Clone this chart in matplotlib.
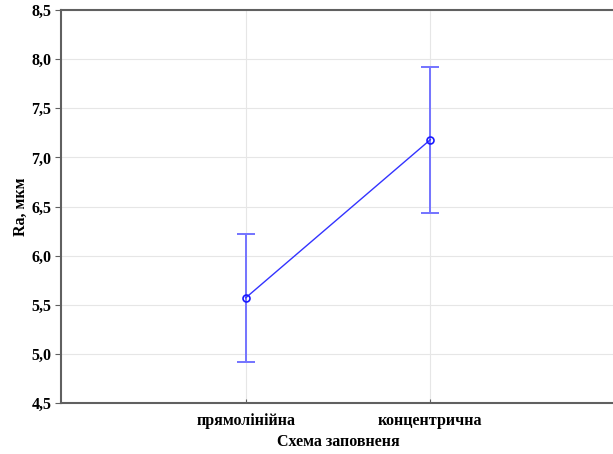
import numpy as np
import matplotlib
matplotlib.use("Agg")
import matplotlib.pyplot as plt

# дані з графіка
categories = ["прямолінійна", "концентрична"]
ra_mean = [5.57, 7.18]
ra_low = [4.92, 6.43]
ra_high = [6.22, 7.92]

plt.rcParams['font.family'] = ['Liberation Serif', 'DejaVu Serif']
plt.rcParams['font.weight'] = 'bold'

fig = plt.figure(figsize=(6.13, 4.54), dpi=100)
ax = fig.add_axes([61 / 613, 1 - 403 / 454, (615 - 61) / 613, 393 / 454])

x = np.arange(1, len(categories) + 1)
mean = np.array(ra_mean)
yerr = [mean - np.array(ra_low), np.array(ra_high) - mean]

ax.errorbar(x, mean, yerr=yerr, fmt='none', ecolor=(0.45, 0.45, 1.0),
            elinewidth=1.4, capsize=6.5, capthick=1.4, zorder=3)
ax.plot(x, mean, color='#3333ff', linewidth=1.0, marker='o', markersize=5,
        markerfacecolor='none', markeredgecolor='#1a1aff', markeredgewidth=1.2, zorder=4)

ax.set_xlim(0, 3)
ax.set_ylim(4.5, 8.5)
yt = np.arange(4.5, 8.51, 0.5)
ax.set_yticks(yt)
ax.set_yticklabels([f"{v:.1f}".replace('.', ',') for v in yt], fontsize=11.5, fontweight='bold')
ax.set_xticks(x)
ax.set_xticklabels(categories, fontsize=11.5, fontweight='bold')

ax.grid(True, color='#e6e6e6', linewidth=0.8)
ax.set_axisbelow(True)
for s in ['left', 'bottom', 'top']:
    ax.spines[s].set_color('#606060')
    ax.spines[s].set_linewidth(1.5)
ax.spines['right'].set_visible(False)
ax.tick_params(axis='y', direction='out', length=4, color='#606060', right=True, pad=3)
ax.tick_params(axis='x', direction='in', length=3, color='#606060', pad=7)

ax.set_xlabel("Схема заповненя", fontsize=11.5, fontweight='bold', labelpad=4)
ax.set_ylabel("Ra, мкм", fontsize=11.5, fontweight='bold', labelpad=2)

fig.savefig("out.png", dpi=100)
